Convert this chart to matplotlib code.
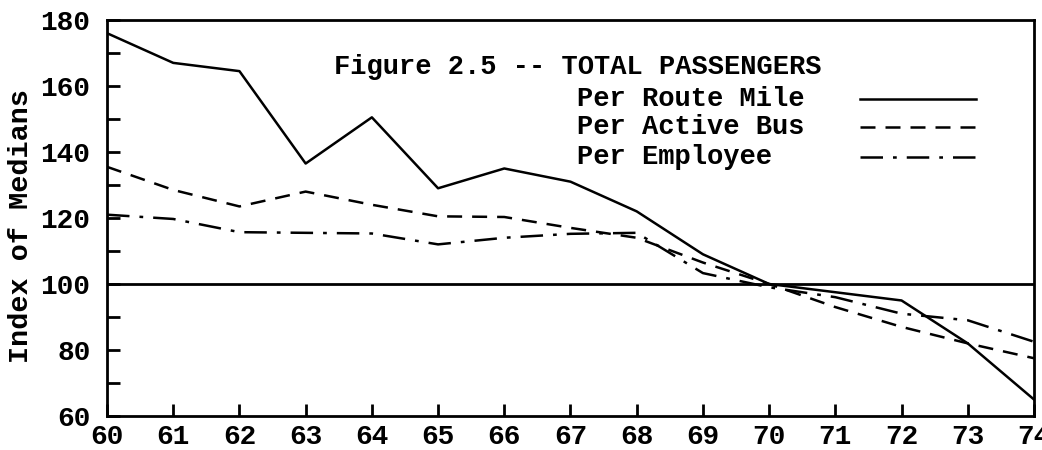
import numpy as np
import matplotlib.pyplot as plt
from matplotlib.ticker import MultipleLocator

years = [60, 61, 62, 63, 64, 65, 66, 67, 68, 69, 70, 71, 72, 73, 74]
per_route_mile = [176, 167, 164.5, 136.5, 150.5, 129, 135, 131, 122, 109, 100, 97.5, 95, 82, 65]
per_active_bus = [135.5, 128.5, 123.5, 128, 124, 120.5, 120.3, 117, 114, 106.5, 100, 93, 87, 82, 77.5]
per_employee = [121, 119.7, 115.7, 115.5, 115.3, 112, 114, 115.2, 115.5, 103.3, 99, 96, 91, 89, 82.5]

title_text = "Figure 2.5 -- TOTAL PASSENGERS"
series_labels = ["Per Route Mile", "Per Active Bus", "Per Employee"]

plt.rcParams.update({
    "font.family": ["Liberation Mono", "DejaVu Sans Mono"],
    "font.weight": "bold",
    "font.size": 19,
})

fig = plt.figure(figsize=(10.42, 4.5), dpi=100)
ax = fig.add_axes([0.1027, 0.0756, 0.8896, 0.88])

lw = 1.8
ax.plot(years, per_route_mile, color="black", lw=lw, linestyle="-")
ax.plot(years, per_active_bus, color="black", lw=lw, linestyle=(0, (6, 4)))
ax.plot(years, per_employee, color="black", lw=lw, linestyle=(0, (9, 4, 1.5, 4)))
ax.axhline(100, color="black", lw=2)

ax.set_xlim(60, 74)
ax.set_ylim(60, 180)
ax.set_xticks(years)
ax.yaxis.set_major_locator(MultipleLocator(20))
ax.yaxis.set_minor_locator(MultipleLocator(10))
ax.tick_params(axis="both", which="both", direction="in", width=2,
               top=False, right=False, labelsize=20)
ax.tick_params(axis="both", which="major", length=9)
ax.tick_params(axis="x", which="major", pad=6)
ax.tick_params(axis="y", which="major", pad=12)
ax.tick_params(axis="y", which="minor", length=9)
for s in ax.spines.values():
    s.set_linewidth(2)

ax.set_ylabel("Index of Medians", fontsize=20.5, fontweight="bold",
              va="center")
ax.yaxis.set_label_coords(-0.093, 0.48)

# legend drawn as text + sample lines, as in the original
ax.text(0.245, 0.88, title_text, transform=ax.transAxes, fontsize=19.5,
        va="center", ha="left")
row_y = [0.80, 0.73, 0.655]
styles = ["-", (0, (6, 4)), (0, (9, 4, 1.5, 4))]
for y, lab, st in zip(row_y, series_labels, styles):
    ax.text(0.507, y, lab, transform=ax.transAxes, fontsize=19.5,
            va="center", ha="left")
    ax.plot([0.812, 0.937], [y, y], transform=ax.transAxes,
            color="black", lw=lw, linestyle=st)

fig.savefig("out.png", dpi=100)
